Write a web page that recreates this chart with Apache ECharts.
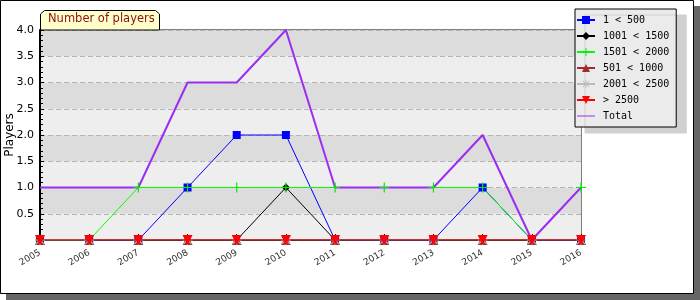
<!DOCTYPE html>
<html>
<head>
<meta charset="utf-8">
<script src="https://cdn.jsdelivr.net/npm/echarts@6/dist/echarts.min.js"></script>
<style>
  html, body { margin: 0; padding: 0; background: #fff; }
  #chart { width: 700px; height: 300px; }
</style>
</head>
<body>
<div id="chart"></div>
<script>
// Number of players per year
var years = ["2005", "2006", "2007", "2008", "2009", "2010", "2011", "2012", "2013", "2014", "2015", "2016"];
var under500 = [0, 0, 0, 1, 2, 2, 0, 0, 0, 1, 0, 0];
var from1001 = [0, 0, 0, 0, 0, 1, 0, 0, 0, 0, 0, 0];
var from1501 = [0, 0, 1, 1, 1, 1, 1, 1, 1, 1, 0, 1];
var from501 = [0, 0, 0, 0, 0, 0, 0, 0, 0, 0, 0, 0];
var from2001 = [0, 0, 0, 0, 0, 0, 0, 0, 0, 0, 0, 0];
var over2500 = [0, 0, 0, 0, 0, 0, 0, 0, 0, 0, 0, 0];
var total = [1, 1, 1, 3, 3, 4, 1, 1, 1, 2, 0, 1];

var font = "DejaVu Sans";
var plus = "path://M4.4,0H5.6V10H4.4Z M0,4.4H10V5.6H0Z";
var star = "path://M4.5,0H5.5V10H4.5Z M0,4.5H10V5.5H0Z M1.2,0.5L9.5,8.8L8.8,9.5L0.5,1.2Z M8.8,0.5L9.5,1.2L1.2,9.5L0.5,8.8Z";

var Chart1 = echarts.init(document.getElementById("chart"));

function mk(name, data, color, symbol, size, extra) {
  var s = {
    name: name,
    type: "line",
    data: data,
    symbol: symbol,
    symbolSize: size,
    showAllSymbol: true,
    color: color,
    itemStyle: { color: color },
    lineStyle: { color: color, width: 1 },
    emphasis: { disabled: true },
    animation: false
  };
  for (var k in extra) s[k] = extra[k];
  return s;
}

option = {
  animation: false,
  textStyle: { fontFamily: font },
  graphic: [
    { type: "rect", shape: { x: 6, y: 6, width: 694, height: 294 }, style: { fill: "#666666" }, z: -10 },
    { type: "rect", shape: { x: 0.5, y: 0.5, width: 693, height: 293 }, style: { fill: "#ffffff", stroke: "#000000", lineWidth: 1 }, z: -9 },
    {
      type: "polygon",
      shape: { points: [[40.5, 30], [40.5, 14], [44.5, 10.5], [155.5, 10.5], [159.5, 14], [159.5, 30]] },
      style: { fill: "#ffffcc", stroke: "#000000", lineWidth: 1 },
      z: 10
    },
    {
      type: "text",
      left: 48, top: 13,
      style: { text: "Number of players", fill: "#8b1010", font: "11.5px DejaVu Sans" },
      z: 11
    }
  ],
  legend: {
    orient: "vertical",
    left: 575,
    top: 9,
    padding: [6, 7, 6, 1],
    itemWidth: 18,
    itemHeight: 10,
    itemGap: 6,
    backgroundColor: "#ebebeb",
    borderColor: "#000000",
    borderWidth: 1,
    shadowColor: "#d0d0d0",
    shadowOffsetX: 10,
    shadowOffsetY: 6,
    shadowBlur: 0,
    textStyle: { fontFamily: "DejaVu Sans Mono", fontSize: 10, color: "#000", padding: [0, 0, 0, 3] },
    data: [
      "1 < 500", "1001 < 1500", "1501 < 2000", "501 < 1000", "2001 < 2500", "> 2500",
      { name: "Total", icon: "path://M0,4.5H18V5.5H0Z", itemStyle: { color: "#9b2cf2" } }
    ]
  },
  grid: {
    left: 40,
    right: 119,
    top: 30,
    bottom: 60,
    outerBoundsMode: "none",
    containLabel: false,
    show: true,
    borderColor: "#000",
    borderWidth: 1
  },
  xAxis: {
    type: "category",
    data: years,
    boundaryGap: false,
    axisLine: { lineStyle: { color: "#000", width: 2 } },
    axisTick: { inside: true, length: 6, interval: 0, lineStyle: { color: "#000" } },
    axisLabel: { rotate: 30, fontSize: 9, color: "#333", interval: 0, margin: 12, fontFamily: font },
    splitLine: { show: false }
  },
  yAxis: {
    type: "value",
    min: 0,
    max: 4,
    interval: 0.5,
    name: "Players",
    nameLocation: "middle",
    nameGap: 24,
    nameMoveOverlap: false,
    nameTextStyle: { fontSize: 12, color: "#000", fontFamily: font },
    axisLine: { show: true, lineStyle: { color: "#000", width: 2 } },
    axisTick: { show: true, inside: true, length: 4, lineStyle: { color: "#000" } },
    minorTick: { show: true, splitNumber: 5, length: 3, lineStyle: { color: "#000" } },
    axisLabel: {
      fontSize: 11, color: "#000", margin: 6, fontFamily: font,
      formatter: function (v) { return v === 0 ? "" : v.toFixed(1); }
    },
    splitLine: { show: true, lineStyle: { color: "#b4b4b4", type: [5, 3] } },
    splitArea: { show: true, areaStyle: { color: ["#eeeeee", "#dcdcdc"] } }
  },
  series: [
    mk("1 < 500", under500, "#0000ff", "rect", 8),
    mk("1001 < 1500", from1001, "#000000", "diamond", 8),
    mk("1501 < 2000", from1501, "#00ee00", plus, 10, { lineStyle: { color: "#00ff00", width: 1 } }),
    mk("501 < 1000", from501, "#a52a2a", "triangle", 10),
    mk("2001 < 2500", from2001, "#bbbbbb", star, 10),
    mk("> 2500", over2500, "#ff0000", "triangle", 10, { symbolRotate: 180, z: 4 }),
    mk("Total", total, "#9b2cf2", "none", 0, { lineStyle: { color: "#9b2cf2", width: 2 }, z: 3 })
  ]
};

Chart1.setOption(option);
</script>
</body>
</html>
